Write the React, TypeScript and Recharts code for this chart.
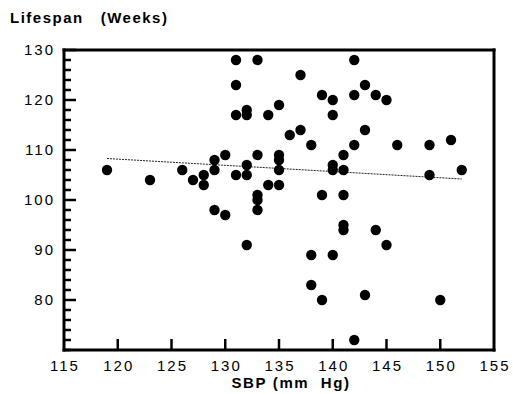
import React from "react";
import { ReferenceLine, Scatter, ScatterChart, XAxis, YAxis } from "recharts";

// systolic blood pressure (mm Hg) vs lifespan (weeks), one dot per animal
const sbp = [
  119, 123, 126, 127, 128, 128, 129, 129, 129, 130, 130,
  131, 131, 131, 131, 132, 132, 132, 132, 132,
  133, 133, 133, 133, 133, 134, 134, 135, 135, 135, 135, 135,
  136, 137, 137, 138, 138, 138, 139, 139, 139,
  140, 140, 140, 140, 140, 141, 141, 141, 141, 141,
  142, 142, 142, 142, 143, 143, 143, 144, 144, 145, 145,
  146, 149, 149, 150, 151, 152,
];
const lifespan = [
  106, 104, 106, 104, 105, 103, 108, 106, 98, 109, 97,
  128, 123, 117, 105, 118, 117, 107, 105, 91,
  128, 109, 101, 100, 98, 117, 103, 119, 109, 108, 106, 103,
  113, 125, 114, 111, 89, 83, 121, 101, 80,
  120, 117, 107, 106, 89, 109, 106, 101, 95, 94,
  128, 121, 111, 72, 123, 114, 81, 121, 94, 120, 91,
  111, 111, 105, 80, 112, 106,
];

// fitted line
const trend = [
  { x: 119, y: 108.3 },
  { x: 152, y: 104.2 },
];

const xTicks = [115, 120, 125, 130, 135, 140, 145, 150, 155];
const yLabels = [80, 90, 100, 110, 120, 130];
const yTicks = [
  70, 72, 74, 76, 78, 80, 82, 84, 86, 88, 90, 92, 94, 96, 98, 100,
  102, 104, 106, 108, 110, 112, 114, 116, 118, 120, 122, 124, 126, 128, 130,
];

const points = sbp.map((x, i) => ({ x, y: lifespan[i] }));

const FONT = '"Liberation Sans", Arial, Helvetica, sans-serif';
const axisStyle = { stroke: "#000", strokeWidth: 3, strokeLinecap: "square" as const };

const isInnerX = (v: number) => v > xTicks[0] && v < xTicks[xTicks.length - 1];

const BottomTick = ({ x, y, payload }: any) => (
  <g>
    {isInnerX(payload.value) && <line x1={x} x2={x} y1={y} y2={y - 11} stroke="#000" strokeWidth={2.5} />}
    <text x={x + 1} y={y + 21} textAnchor="middle" fontSize={15} letterSpacing={2} fontFamily={FONT} fill="#000">
      {payload.value}
    </text>
  </g>
);

const TopTick = ({ x, y, payload }: any) =>
  isInnerX(payload.value) ? <line x1={x} x2={x} y1={y} y2={y + 11} stroke="#000" strokeWidth={2.5} /> : <g />;

const LeftTick = ({ x, y, payload }: any) => {
  const major = yLabels.includes(payload.value);
  return (
    <g>
      <line x1={x} x2={x + (major ? 12 : 7)} y1={y} y2={y} stroke="#000" strokeWidth={2.5} />
      {major && (
        <text x={x - 9} y={y + 5} textAnchor="end" fontSize={15} letterSpacing={2} fontFamily={FONT} fill="#000">
          {payload.value}
        </text>
      )}
    </g>
  );
};

const RightTick = ({ x, y, payload }: any) => {
  const major = yLabels.includes(payload.value);
  return <line x1={x} x2={x - (major ? 12 : 7)} y1={y} y2={y} stroke="#000" strokeWidth={2.5} />;
};

export default function App() {
  return (
    <div style={{ position: "absolute", left: 0, top: 0, width: 513, height: 394, background: "#fff" }}>
      <ScatterChart width={513} height={394} margin={{ top: 49, right: 18, bottom: 14, left: 9 }}>
        <XAxis
          dataKey="x"
          type="number"
          domain={[115, 155]}
          ticks={xTicks}
          height={30}
          tickSize={0}
          tickMargin={0}
          tickLine={false}
          axisLine={axisStyle}
          tick={BottomTick}
          interval={0}
        />
        <XAxis
          xAxisId="top"
          orientation="top"
          type="number"
          domain={[115, 155]}
          ticks={xTicks}
          height={1}
          tickSize={0}
          tickMargin={0}
          tickLine={false}
          axisLine={axisStyle}
          tick={TopTick}
          interval={0}
        />
        <YAxis
          dataKey="y"
          type="number"
          domain={[70, 130]}
          ticks={yTicks}
          width={55}
          tickSize={0}
          tickMargin={0}
          tickLine={false}
          axisLine={axisStyle}
          tick={LeftTick}
          interval={0}
        />
        <YAxis
          yAxisId="right"
          orientation="right"
          type="number"
          domain={[70, 130]}
          ticks={yTicks}
          width={1}
          tickSize={0}
          tickMargin={0}
          tickLine={false}
          axisLine={axisStyle}
          tick={RightTick}
          interval={0}
        />
        <ReferenceLine segment={trend} stroke="#222" strokeWidth={1} strokeDasharray="2 1" ifOverflow="visible" />
        <Scatter
          data={points}
          fill="#000"
          isAnimationActive={false}
          shape={(p: any) => <circle cx={p.cx} cy={p.cy} r={5.2} fill="#000" />}
        />
        <text x={10} y={23} fontSize={15} fontWeight="bold" letterSpacing={1.5} fontFamily={FONT} fill="#000">
          {"Lifespan\u00a0\u00a0\u00a0(Weeks)"}
        </text>
        <text x={291} y={388} textAnchor="middle" fontSize={15} fontWeight="bold" letterSpacing={1.6} fontFamily={FONT} fill="#000">
          {"SBP\u00a0(mm\u00a0\u00a0Hg)"}
        </text>
      </ScatterChart>
    </div>
  );
}
